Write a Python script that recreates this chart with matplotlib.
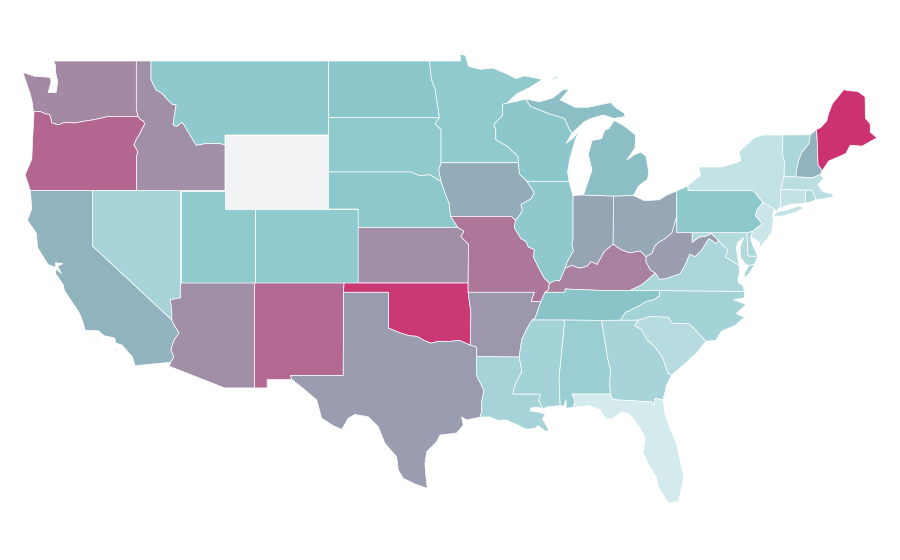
import numpy as np
import matplotlib
matplotlib.use("Agg")
import matplotlib.pyplot as plt
import matplotlib.colors as mcolors

# shared borders (lon, lat), so neighbours line up
wa_or = [(-124.0,46.27),(-123.5,46.26),(-123.2,46.15),(-122.9,46.1),(-122.8,45.85),(-122.75,45.65),(-122.3,45.55),(-121.9,45.68),(-121.2,45.65),(-120.6,45.74),(-119.9,45.83),(-119.3,45.93),(-119.0,46.0),(-116.92,46.0)]
or_id = [(-116.92,46.0),(-116.78,45.85),(-116.55,45.75),(-116.47,45.6),(-116.67,45.3),(-116.85,45.0),(-117.05,44.75),(-117.2,44.45),(-117.03,44.25),(-116.93,44.1),(-117.03,43.83),(-117.03,42.0)]
id_mt = [(-116.05,49.0),(-116.05,48.0),(-115.72,47.45),(-115.3,47.25),(-114.95,46.93),(-114.6,46.65),(-114.35,46.65),(-114.45,46.15),(-114.56,45.56),(-114.33,45.46),(-113.94,45.69),(-113.8,45.52),(-113.45,45.06),(-113.0,44.45),(-112.3,44.55),(-111.5,44.55),(-111.05,44.48)]
az_ca = [(-114.63,35.0),(-114.6,34.9),(-114.15,34.3),(-114.5,33.9),(-114.7,33.4),(-114.5,33.0),(-114.72,32.72)]
az_nv = [(-114.05,36.2),(-114.75,36.1),(-114.65,35.6),(-114.63,35.0)]
red_river = [(-100.0,34.56),(-99.2,34.3),(-98.6,34.15),(-98.1,34.12),(-97.6,33.9),(-97.15,33.75),(-96.6,33.85),(-95.8,33.85),(-95.2,33.9),(-94.48,33.64)]
sabine = [(-94.04,33.02),(-94.04,32.0),(-93.55,31.2),(-93.7,30.6),(-93.7,30.05),(-93.82,29.75)]
ne_sd = [(-104.05,43.0),(-98.5,43.0),(-97.9,42.8),(-97.2,42.85),(-96.45,42.49)]
ne_ia = [(-96.45,42.49),(-96.2,41.9),(-95.9,41.3),(-95.8,40.6)]
ne_mo = [(-95.8,40.6),(-95.3,40.0)]
ks_mo = [(-95.3,40.0),(-94.9,39.8),(-95.1,39.5),(-94.6,39.1),(-94.62,37.0)]
nd_mn = [(-97.23,49.0),(-97.1,48.0),(-96.85,47.5),(-96.56,45.94)]
sd_mn = [(-96.56,45.94),(-96.85,45.6),(-96.45,45.3),(-96.45,43.5)]
sd_ia = [(-96.45,43.5),(-96.6,43.1),(-96.45,42.49)]
mn_wi = [(-92.02,46.71),(-92.29,46.66),(-92.29,46.07),(-92.88,45.57),(-92.75,45.3),(-92.75,44.75),(-92.0,44.4),(-91.25,43.85),(-91.22,43.5)]
ia_wi = [(-91.22,43.5),(-91.15,42.9),(-90.65,42.5)]
ia_il = [(-90.65,42.5),(-90.15,41.9),(-90.35,41.55),(-91.05,41.25),(-90.95,40.95),(-91.1,40.7),(-91.42,40.38)]
ia_mo = [(-91.42,40.38),(-91.7,40.6),(-95.8,40.6)]
mo_il = [(-91.42,40.38),(-91.5,40.0),(-91.05,39.4),(-90.72,39.25),(-90.55,38.95),(-90.15,38.8),(-90.2,38.4),(-89.9,37.9),(-89.5,37.3),(-89.13,36.98)]
mo_ky = [(-89.13,36.98),(-89.2,36.63),(-89.42,36.5)]
mo_tn = [(-89.42,36.5),(-89.7,36.0)]
ar_tn = [(-89.7,36.0),(-89.9,35.55),(-90.1,35.1),(-90.3,35.0)]
ar_ms = [(-90.3,35.0),(-90.6,34.6),(-91.0,33.95),(-91.17,33.0)]
la_ms = [(-91.17,33.0),(-91.05,32.5),(-91.0,32.2),(-91.45,31.5),(-91.6,31.0),(-89.73,31.0),(-89.85,30.65),(-89.55,30.2)]
il_ky = [(-89.13,36.98),(-88.7,37.15),(-88.45,37.1),(-88.05,37.8)]
il_in = [(-87.53,41.7),(-87.53,39.35),(-87.6,39.1),(-87.5,38.75),(-87.95,38.1),(-88.05,37.8)]
in_ky = [(-88.05,37.8),(-87.6,37.95),(-87.1,37.8),(-86.6,37.9),(-86.3,38.15),(-85.9,38.0),(-85.7,38.3),(-85.4,38.72),(-84.82,39.1)]
oh_ky = [(-84.82,39.1),(-84.3,38.8),(-83.7,38.63),(-83.0,38.73),(-82.6,38.42)]
oh_wv = [(-82.6,38.42),(-82.2,38.6),(-82.0,39.0),(-81.75,39.2),(-81.4,39.35),(-80.85,39.7),(-80.6,40.4),(-80.52,40.64)]
ky_wv = [(-82.6,38.42),(-82.6,38.15),(-82.3,37.7),(-81.97,37.54)]
ky_va = [(-81.97,37.54),(-82.35,37.27),(-82.9,36.9),(-83.68,36.6)]
ky_tn = [(-89.42,36.5),(-88.07,36.5),(-88.07,36.68),(-87.0,36.64),(-85.5,36.6),(-83.68,36.6)]
va_wv = [(-81.97,37.54),(-81.68,37.2),(-81.25,37.25),(-80.3,37.5),(-79.95,38.0),(-79.65,38.58),(-79.3,38.42),(-78.87,38.76),(-78.35,39.4),(-77.83,39.13),(-77.72,39.32)]
wv_md = [(-77.72,39.32),(-78.2,39.68),(-78.5,39.55),(-79.05,39.47),(-79.48,39.2),(-79.48,39.72)]
va_md = [(-77.72,39.32),(-77.5,39.1),(-77.05,38.8),(-77.25,38.4),(-76.95,38.27),(-76.3,37.95)]
tn_nc = [(-81.68,36.59),(-81.7,36.3),(-82.05,36.1),(-82.6,36.0),(-83.1,35.75),(-84.0,35.4),(-84.32,34.99)]
nc_sc = [(-83.11,35.0),(-82.3,35.2),(-81.05,35.15),(-81.05,35.05),(-80.8,34.82),(-79.67,34.8),(-78.55,33.86)]
sc_ga = [(-83.11,35.0),(-83.35,34.7),(-82.9,34.48),(-82.55,33.95),(-81.95,33.5),(-81.5,33.0),(-81.1,32.1),(-80.87,32.03)]
ga_al = [(-85.6,34.98),(-85.18,32.87),(-85.0,32.3),(-85.05,31.55),(-85.0,31.0)]
fl_ga = [(-85.0,31.0),(-84.86,30.7),(-82.2,30.57),(-82.05,30.36),(-82.0,30.75),(-81.45,30.7)]
al_ms = [(-88.2,35.0),(-88.1,34.9),(-88.47,31.9),(-88.4,30.37)]
fl_al = [(-85.0,31.0),(-87.6,31.0),(-87.4,30.65),(-87.52,30.28)]
mi_wi = [(-90.4,46.55),(-89.1,46.14),(-88.1,45.9),(-87.8,45.35),(-87.6,45.1)]
pa_nj = [(-74.7,41.35),(-75.1,40.95),(-75.2,40.65),(-74.75,40.2),(-75.4,39.8)]
vt_nh = [(-71.5,45.01),(-71.6,44.5),(-72.05,44.1),(-72.3,43.6),(-72.45,43.0),(-72.46,42.73)]
ny_vt = [(-73.35,45.0),(-73.4,44.0),(-73.25,43.6),(-73.27,42.75)]
me_nh = [(-71.08,45.3),(-71.03,44.65),(-70.98,43.4),(-70.7,43.07)]

# state outlines
washington = [[(-122.62,49.0),(-117.04,49.0),(-117.04,46.42),*wa_or[::-1],(-124.05,46.7),(-124.2,47.2),(-124.7,48.38),(-123.9,48.17),(-123.1,48.13),(-122.85,48.1),(-122.8,47.85),(-123.0,47.3),(-122.45,47.3),(-122.35,47.9),(-122.5,48.4),(-122.5,48.75)]]
oregon = [[(-124.2,42.0),(-124.55,42.85),(-124.1,43.7),(-124.05,44.7),(-123.95,46.2),*wa_or,*or_id]]
california = [[(-124.2,42.0),(-120.0,42.0),(-120.0,39.0),*az_ca,(-117.12,32.53),(-117.3,33.0),(-118.0,33.65),(-118.4,33.75),(-118.5,34.03),(-119.2,34.15),(-119.6,34.42),(-120.5,34.45),(-120.65,34.9),(-120.9,35.4),(-121.9,36.6),(-122.0,36.95),(-122.5,37.5),(-122.45,37.78),(-122.1,37.5),(-122.35,37.9),(-122.0,38.05),(-122.5,38.1),(-122.5,37.85),(-123.0,38.0),(-123.7,38.9),(-123.8,39.7),(-124.4,40.4),(-124.1,41.0)],
              [(-119.95,33.98),(-119.6,33.98),(-119.75,34.05)],[(-118.55,33.42),(-118.35,33.35),(-118.4,33.45)]]
nevada = [[(-120.0,42.0),(-114.04,42.0),(-114.04,36.2),*az_nv,(-120.0,39.0)]]
idaho = [[(-117.04,49.0),*id_mt,(-111.05,42.0),*or_id[::-1],(-117.04,46.42)]]
montana = [[(-116.05,49.0),(-104.05,49.0),(-104.05,45.0),(-111.05,45.0),*id_mt[::-1]]]
wyoming = [[(-111.05,45.0),(-104.05,45.0),(-104.05,41.0),(-111.05,41.0)]]
utah = [[(-114.04,42.0),(-111.05,42.0),(-111.05,41.0),(-109.05,41.0),(-109.05,37.0),(-114.04,37.0)]]
colorado = [[(-109.05,41.0),(-102.05,41.0),(-102.05,37.0),(-109.05,37.0)]]
arizona = [[(-114.04,37.0),(-109.05,37.0),(-109.05,31.33),(-111.07,31.33),(-114.8,32.5),*az_ca[::-1],*az_nv[::-1]]]
new_mexico = [[(-109.05,37.0),(-103.0,37.0),(-103.04,36.5),(-103.06,32.0),(-106.62,32.0),(-106.53,31.78),(-108.2,31.78),(-108.2,31.33),(-109.05,31.33)]]
north_dakota = [[(-104.05,49.0),*nd_mn,(-104.05,45.94)]]
south_dakota = [[(-104.05,45.94),*sd_mn,*sd_ia,*ne_sd[::-1]]]
nebraska = [[(-104.05,41.0),*ne_sd,*ne_ia,*ne_mo,(-102.05,40.0),(-102.05,41.0)]]
kansas = [[(-102.05,40.0),*ks_mo,(-102.05,37.0)]]
oklahoma = [[(-103.04,36.5),(-103.0,37.0),(-94.62,37.0),(-94.62,36.5),(-94.43,35.4),*red_river[::-1],(-100.0,36.5)]]
texas = [[*red_river,(-94.04,33.55),*sabine,(-94.72,29.6),(-95.06,29.77),(-94.95,29.32),(-95.39,28.9),(-96.52,28.78),(-96.75,28.42),(-97.42,27.88),(-97.54,27.25),(-97.49,26.7),(-97.38,25.9),(-98.21,26.14),(-99.0,26.44),(-99.34,26.89),(-99.45,27.61),(-100.24,28.33),(-100.69,29.23),(-101.37,29.77),(-102.27,29.9),(-102.72,29.69),(-103.16,29.09),(-103.73,29.29),(-104.52,29.7),(-104.85,30.68),(-105.76,31.3),(-106.53,31.78),(-106.62,32.0),(-103.06,32.0),(-103.04,36.5),(-100.0,36.5)]]
minnesota = [[(-97.23,49.0),(-95.15,49.0),(-95.15,49.38),(-94.8,49.3),(-94.6,48.72),(-93.8,48.55),(-92.95,48.62),(-92.0,48.3),(-91.4,48.05),(-90.8,48.2),(-89.6,48.0),(-90.5,47.55),(-91.3,47.25),*mn_wi,*sd_mn[::-1],*nd_mn[::-1]]]
iowa = [[(-96.45,43.5),(-91.22,43.5),*ia_wi,*ia_il,*ia_mo,*ne_ia[::-1],*sd_ia[::-1]]]
missouri = [[*ne_mo[::-1],*ia_mo[::-1],*mo_il,*mo_ky,*mo_tn,(-90.37,36.0),(-90.15,36.5),(-94.62,36.5),*ks_mo[::-1]]]
arkansas = [[(-94.62,36.5),(-90.15,36.5),(-90.37,36.0),*ar_tn,*ar_ms,(-94.04,33.02),(-94.04,33.55),(-94.48,33.64),(-94.43,35.4)]]
louisiana = [[*sabine[::-1],(-94.04,33.02),*la_ms,(-89.95,30.3),(-90.4,30.25),(-90.4,30.08),(-90.0,30.03),(-89.75,30.0),(-89.4,29.9),(-89.6,29.65),(-89.4,29.4),(-89.15,29.0),(-89.4,29.0),(-89.9,29.3),(-90.1,29.15),(-90.6,29.1),(-91.0,29.2),(-91.3,29.35),(-91.8,29.5),(-92.0,29.6),(-92.6,29.58),(-93.2,29.77)]]
wisconsin = [[*mn_wi[:1],(-91.2,46.85),(-90.75,46.95),*mi_wi,(-88.0,44.55),(-87.5,44.85),(-87.1,45.25),(-87.35,44.8),(-87.55,44.3),(-87.75,43.7),(-87.9,43.0),(-87.8,42.49),*ia_wi[::-1],*mn_wi[::-1]]]
illinois = [[(-90.65,42.5),(-87.8,42.49),*il_in,*il_ky[::-1],*mo_il[::-1],*ia_il[::-1]]]
indiana = [[(-87.53,41.7),(-87.2,41.75),(-86.82,41.76),(-84.8,41.7),(-84.82,39.1),*in_ky[::-1],*il_in[::-1]]]
ohio = [[(-84.8,41.7),(-83.45,41.73),(-82.7,41.45),(-81.7,41.5),(-81.2,41.75),(-80.52,41.98),(-80.52,40.64),*oh_wv[::-1],*oh_ky[::-1]]]
michigan = [[(-86.82,41.76),(-84.8,41.7),(-83.45,41.73),(-83.1,42.25),(-82.5,42.6),(-82.42,43.0),(-82.6,43.85),(-82.95,44.07),(-83.35,43.95),(-83.9,43.65),(-83.35,44.3),(-83.3,45.0),(-84.1,45.5),(-84.75,45.78),(-85.1,45.35),(-85.4,45.25),(-85.6,44.8),(-86.25,44.7),(-86.5,43.95),(-86.25,43.1),(-86.6,42.3)],
            [(-90.75,46.95),(-89.8,46.8),(-88.9,47.0),(-88.2,47.45),(-87.8,47.47),(-88.4,46.9),(-87.4,46.5),(-86.5,46.5),(-85.0,46.75),(-84.6,46.45),(-84.1,46.2),(-84.0,46.0),(-84.75,45.9),(-85.5,46.08),(-86.3,45.9),(-86.8,45.7),*mi_wi[::-1]],
            [(-89.2,47.85),(-88.5,48.15),(-88.7,48.15)]]
kentucky = [[*mo_ky[::-1],*il_ky,*in_ky,*oh_ky,*ky_wv,*ky_va,*ky_tn[::-1]]]
tennessee = [[*ky_tn,(-81.68,36.59),*tn_nc,(-85.6,34.98),(-88.2,35.0),(-90.3,35.0),*ar_tn[::-1],*mo_tn[::-1]]]
mississippi = [[(-90.3,35.0),*al_ms,(-89.3,30.3),*la_ms[::-1],*ar_ms[::-1]]]
alabama = [[(-88.2,35.0),*ga_al,*fl_al,(-88.0,30.23),(-88.0,30.7),(-88.15,30.35),*al_ms[::-1]]]
georgia = [[(-85.6,34.98),(-84.32,34.99),*sc_ga,(-81.2,31.5),*fl_ga[::-1],*ga_al[::-1]]]
florida = [[(-87.52,30.28),(-86.5,30.38),(-85.7,30.15),(-85.35,29.67),(-84.9,29.65),(-84.2,30.05),(-83.7,29.9),(-83.0,29.15),(-82.65,28.6),(-82.8,27.85),(-82.5,27.3),(-81.9,26.5),(-81.75,25.95),(-81.1,25.12),(-80.4,25.2),(-80.05,26.5),(-80.3,27.4),(-80.55,28.3),(-80.9,29.0),(-81.3,29.85),*fl_ga[::-1],*fl_al]]
south_carolina = [[*nc_sc,(-79.2,33.2),(-79.9,32.7),(-80.45,32.3),*sc_ga[::-1]]]
north_carolina = [[(-75.95,36.55),(-75.95,36.2),(-76.7,36.1),(-75.85,35.85),(-76.5,35.35),(-75.95,35.15),(-76.6,34.7),(-77.5,34.4),(-77.9,33.9),*nc_sc[::-1],(-84.32,34.99),*tn_nc[::-1]]]
virginia = [[(-75.95,36.55),(-81.68,36.59),(-83.68,36.6),*ky_va[::-1],*va_wv,*va_md,(-76.3,37.5),(-76.4,37.2),(-76.35,37.0),(-76.05,36.85)],
            [(-75.25,38.03),(-75.6,37.55),(-75.98,37.25),(-75.95,37.5),(-75.65,37.95)]]
west_virginia = [[(-80.52,40.64),(-80.52,39.72),*wv_md[::-1],*va_wv[::-1],*ky_wv[::-1],*oh_wv]]
maryland = [[(-79.48,39.72),(-75.79,39.72),(-75.7,38.46),(-75.05,38.45),(-75.25,38.03),(-75.65,37.95),(-75.85,38.0),(-76.2,38.35),(-76.25,38.95),(-76.0,39.45),(-76.4,39.2),(-76.5,38.9),(-76.4,38.3),*va_md[::-1],*wv_md]]
delaware = [[(-75.79,39.72),(-75.4,39.8),(-75.55,39.45),(-75.4,39.05),(-75.05,38.45),(-75.7,38.46)]]
pennsylvania = [[(-80.52,41.98),(-79.76,42.25),(-79.76,42.0),(-75.35,42.0),*pa_nj,(-75.79,39.72),(-80.52,39.72),(-80.52,40.64)]]
new_jersey = [[(-74.7,41.35),(-73.92,41.0),(-74.05,40.65),(-74.0,40.4),(-74.1,39.75),(-74.4,39.4),(-74.9,38.93),(-74.95,39.2),(-75.5,39.5),*pa_nj[::-1]]]
new_york = [[(-79.76,42.0),(-79.76,42.27),(-78.9,42.85),(-79.05,43.27),(-77.5,43.27),(-76.5,43.5),(-76.2,43.6),(-76.3,44.1),(-75.3,44.85),(-74.7,45.0),*ny_vt,(-73.5,42.05),(-73.49,41.2),(-73.65,41.0),(-73.8,40.8),(-73.92,41.0),(-74.7,41.35),(-75.35,42.0)],
            [(-74.0,40.6),(-73.75,40.85),(-73.0,40.97),(-72.3,41.15),(-71.9,41.07),(-72.5,40.82),(-73.4,40.62)]]
vermont = [[(-73.35,45.0),*vt_nh,*ny_vt[::-1]]]
new_hampshire = [[*vt_nh[:1],*me_nh,(-70.82,42.87),(-71.3,42.7),*vt_nh[:0:-1]]]
maine = [[(-71.08,45.3),(-70.8,45.4),(-70.4,45.75),(-70.25,46.2),(-70.0,46.7),(-69.23,47.46),(-69.0,47.4),(-68.3,47.36),(-67.8,47.07),(-67.78,45.9),(-67.45,45.6),(-67.45,45.15),(-67.0,44.85),(-68.0,44.4),(-68.8,44.45),(-69.1,44.0),(-69.8,43.75),(-70.25,43.6),*me_nh[::-1]]]
massachusetts = [[(-73.5,42.05),(-73.27,42.75),(-72.46,42.73),(-71.3,42.7),(-70.82,42.87),(-70.6,42.65),(-71.0,42.3),(-70.65,41.95),(-70.0,41.8),(-70.2,42.08),(-69.95,41.8),(-70.0,41.65),(-70.65,41.55),(-71.12,41.5),(-71.38,41.9),(-71.38,42.02),(-71.8,42.02)]]
rhode_island = [[(-71.8,42.02),(-71.38,42.02),(-71.12,41.5),(-71.5,41.37),(-71.86,41.32)]]
connecticut = [[(-73.5,42.05),(-71.8,42.02),(-71.86,41.32),(-72.9,41.25),(-73.65,41.0),(-73.49,41.2)]]

states = [washington, oregon, california, nevada, idaho, montana, wyoming, utah, colorado, arizona,
          new_mexico, north_dakota, south_dakota, nebraska, kansas, oklahoma, texas, minnesota, iowa, missouri,
          arkansas, louisiana, wisconsin, illinois, indiana, ohio, michigan, kentucky, tennessee, mississippi,
          alabama, georgia, florida, south_carolina, north_carolina, virginia, west_virginia, maryland, delaware, pennsylvania,
          new_jersey, new_york, vermont, new_hampshire, maine, massachusetts, rhode_island, connecticut]
values = [67, 80, 49, 24, 65, 37, np.nan, 36, 36, 65,
          79, 39, 36, 38, 65, 97, 60, 36, 53, 74,
          62, 25, 39, 37, 56, 55, 44, 70, 41, 26,
          31, 24, 0, 16, 26, 22, 60, 18, 22, 38,
          5, 9, 22, 49, 100, 14, 20, 9]

cmap = mcolors.LinearSegmentedColormap.from_list(
    "rate", [(0, "#d4eaed"), (0.4, "#89c6ca"), (0.6, "#9a9caf"), (1, "#cd3270")])
cmap.set_bad("#f2f3f5")
norm = mcolors.Normalize(0, 100)

fig = plt.figure(figsize=(9, 5.6), dpi=100)
ax = fig.add_axes([0, 0, 1, 1])

for parts, value in zip(states, values):
    color = cmap(norm(np.ma.masked_invalid(value)))
    for part in parts:
        lon, lat = zip(*part)
        ax.fill(lon, lat, facecolor=color, edgecolor="white", linewidth=0.5, zorder=2)

ax.set_xlim(-126.25, -65.44)
ax.set_ylim(22.03, 52.297)
ax.axis("off")

fig.savefig("out.png", dpi=100, facecolor="white")
